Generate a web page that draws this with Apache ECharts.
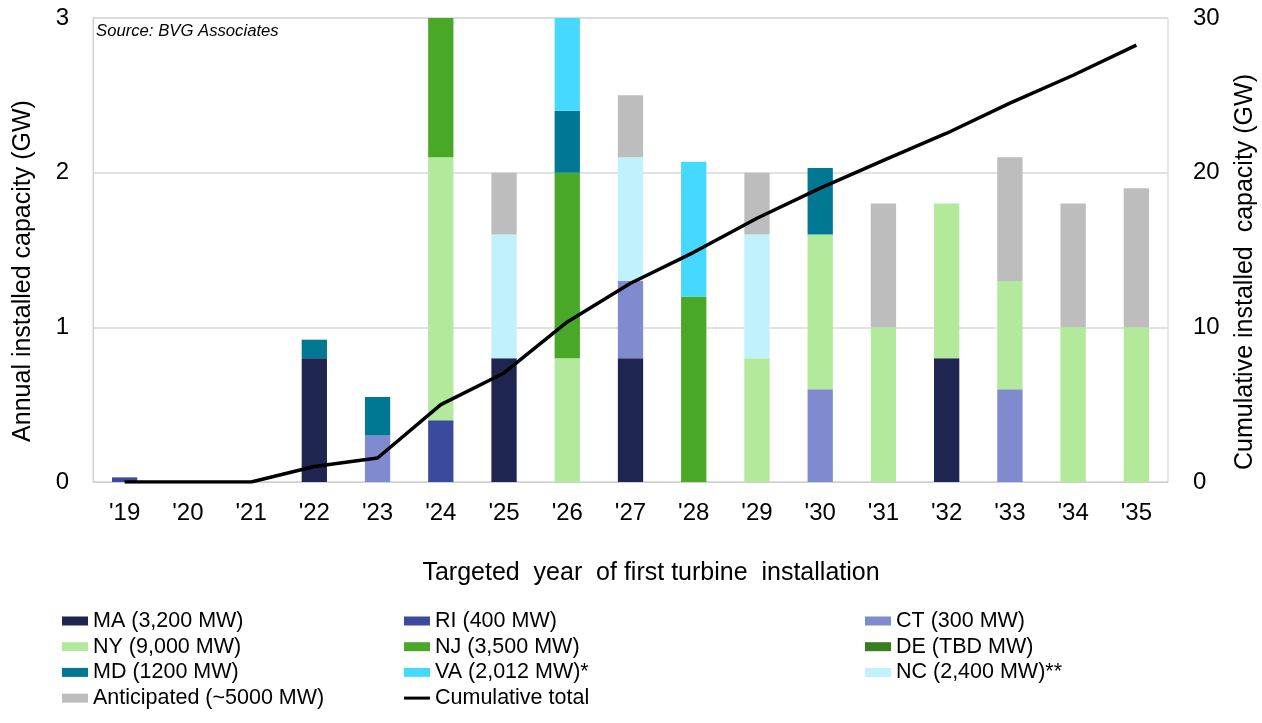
<!DOCTYPE html>
<html>
<head>
<meta charset="utf-8">
<script src="https://cdn.jsdelivr.net/npm/echarts@6/dist/echarts.min.js"></script>
<style>
  html, body { margin: 0; padding: 0; background: #fff; }
  #chart { width: 1262px; height: 723px; }
</style>
</head>
<body>
<div id="chart"></div>
<script>
  // categories
  const years = ["'19", "'20", "'21", "'22", "'23", "'24", "'25", "'26", "'27", "'28", "'29", "'30", "'31", "'32", "'33", "'34", "'35"];

  // annual installed capacity by state (GW)
  const MA  = [0, 0, 0, 0.8, 0, 0, 0.8, 0, 0.8, 0, 0, 0, 0, 0.8, 0, 0, 0];
  const RI  = [0.03, 0, 0, 0, 0, 0.4, 0, 0, 0, 0, 0, 0, 0, 0, 0, 0, 0];
  const CT  = [0, 0, 0, 0, 0.3, 0, 0, 0, 0.5, 0, 0, 0.6, 0, 0, 0.6, 0, 0];
  const NY  = [0, 0, 0, 0, 0, 1.7, 0, 0.8, 0, 0, 0.8, 1.0, 1.0, 1.0, 0.7, 1.0, 1.0];
  const NJ  = [0, 0, 0, 0, 0, 0.9, 0, 1.2, 0, 1.2, 0, 0, 0, 0, 0, 0, 0];
  const DE  = [0, 0, 0, 0, 0, 0, 0, 0, 0, 0, 0, 0, 0, 0, 0, 0, 0];
  const MD  = [0, 0, 0, 0.12, 0.25, 0, 0, 0.4, 0, 0, 0, 0.43, 0, 0, 0, 0, 0];
  const VA  = [0, 0, 0, 0, 0, 0, 0, 0.6, 0, 0.87, 0, 0, 0, 0, 0, 0, 0];
  const NC  = [0, 0, 0, 0, 0, 0, 0.8, 0, 0.8, 0, 0.8, 0, 0, 0, 0, 0, 0];
  const ANT = [0, 0, 0, 0, 0, 0, 0.4, 0, 0.4, 0, 0.4, 0, 0.8, 0, 0.8, 0.8, 0.9];

  // cumulative total (GW, right axis)
  const cumulative = [0, 0, 0, 1.0, 1.55, 5.0, 7.05, 10.35, 12.85, 14.85, 17.05, 19.0, 20.8, 22.55, 24.5, 26.3, 28.25];

  const leftTicks = { min: 0, max: 3, interval: 1 };
  const rightTicks = { min: 0, max: 30, interval: 10 };

  const FONT = 'Liberation Sans, Arial, sans-serif';

  const barDefs = [
    ['MA (3,200 MW)', MA, '#1f2551'],
    ['RI (400 MW)', RI, '#3c4a9e'],
    ['CT (300 MW)', CT, '#7f8acf'],
    ['NY (9,000 MW)', NY, '#b2e99b'],
    ['NJ (3,500 MW)', NJ, '#4aa829'],
    ['DE (TBD MW)', DE, '#387d20'],
    ['MD (1200 MW)', MD, '#007894'],
    ['VA (2,012 MW)*', VA, '#46d9ff'],
    ['NC (2,400 MW)**', NC, '#c1f1fd'],
    ['Anticipated (~5000 MW)', ANT, '#bdbdbd']
  ];

  const series = barDefs.map(([name, data, color]) => ({
    name: name,
    type: 'bar',
    stack: 'annual',
    data: data,
    barWidth: '40%',
    itemStyle: { color: color },
    emphasis: { disabled: true }
  }));

  series.push({
    name: 'Cumulative total',
    type: 'line',
    yAxisIndex: 1,
    data: cumulative,
    symbol: 'none',
    z: 10,
    lineStyle: { color: '#000', width: 3.5 },
    itemStyle: { color: '#000' }
  });

  const lineIcon = 'path://M0,0H26V3H0Z';

  const legendBase = {
    orient: 'vertical',
    top: 610,
    padding: 0,
    itemWidth: 26,
    itemHeight: 9,
    itemGap: 3.7,
    icon: 'rect',
    textStyle: { fontFamily: FONT, fontSize: 21.5, color: '#000', lineHeight: 22 },
    selectedMode: false
  };

  const axisLabelStyle = { fontFamily: FONT, fontSize: 24, color: '#000' };
  const titleStyle = { fontFamily: FONT, fontSize: 25, color: '#000' };

  const chart = echarts.init(document.getElementById('chart'));
  chart.setOption({
    animation: false,
    grid: {
      left: 93, right: 94, top: 18, bottom: 241,
      show: true, borderColor: '#d0d0d0', borderWidth: 1
    },
    legend: [
      Object.assign({}, legendBase, { left: 62, data: ['MA (3,200 MW)', 'NY (9,000 MW)', 'MD (1200 MW)', 'Anticipated (~5000 MW)'] }),
      Object.assign({}, legendBase, { left: 404, data: ['RI (400 MW)', 'NJ (3,500 MW)', 'VA (2,012 MW)*', { name: 'Cumulative total', icon: lineIcon }] }),
      Object.assign({}, legendBase, { left: 865, data: ['CT (300 MW)', 'DE (TBD MW)', 'NC (2,400 MW)**'] })
    ],
    title: {
      text: 'Targeted  year  of first turbine  installation',
      left: 651, top: 561, textAlign: 'center', padding: 0,
      textStyle: Object.assign({ fontWeight: 'normal' }, titleStyle)
    },
    graphic: [
      {
        type: 'text', left: 96, top: 23,
        style: { text: 'Source: BVG Associates', fontFamily: FONT, fontSize: 16.7, fontStyle: 'italic', fill: '#000' }
      },
      {
        type: 'text', x: 23, y: 271, rotation: Math.PI / 2,
        style: Object.assign({ text: 'Annual installed capacity (GW)', fill: '#000', align: 'center', verticalAlign: 'middle' }, titleStyle)
      },
      {
        type: 'text', x: 1245, y: 272, rotation: Math.PI / 2,
        style: Object.assign({ text: 'Cumulative installed  capacity (GW)', fill: '#000', align: 'center', verticalAlign: 'middle' }, titleStyle)
      }
    ],
    xAxis: {
      type: 'category',
      data: years,
      axisLine: { lineStyle: { color: '#d0d0d0' } },
      axisTick: { show: false },
      axisLabel: Object.assign({ margin: 19, interval: 0 }, axisLabelStyle)
    },
    yAxis: [
      {
        type: 'value',
        min: leftTicks.min, max: leftTicks.max, interval: leftTicks.interval,
        axisLine: { show: true, lineStyle: { color: '#d0d0d0' } },
        axisTick: { show: false },
        axisLabel: Object.assign({ margin: 24 }, axisLabelStyle),
        splitLine: { lineStyle: { color: '#d9d9d9', width: 1.5 } }
      },
      {
        type: 'value',
        min: rightTicks.min, max: rightTicks.max, interval: rightTicks.interval,
        axisLine: { show: false },
        axisTick: { show: false },
        axisLabel: Object.assign({ margin: 25 }, axisLabelStyle),
        splitLine: { show: false }
      }
    ],
    series: series
  });
</script>
</body>
</html>
